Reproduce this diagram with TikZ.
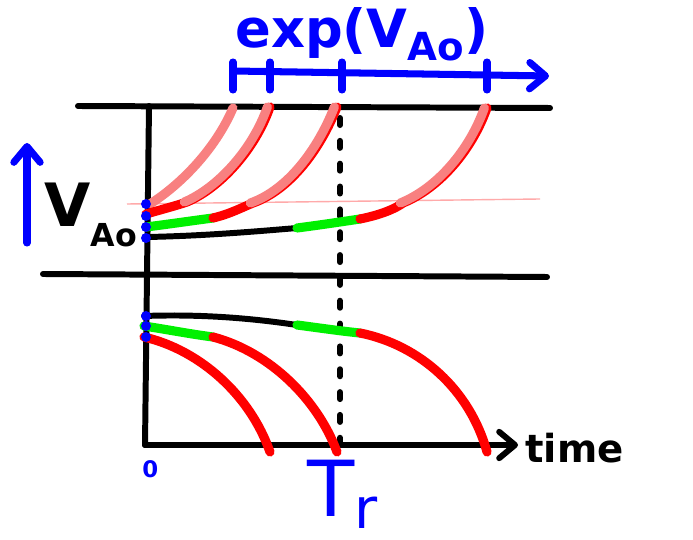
\documentclass[tikz,border=0pt]{standalone}
\usepackage{fontspec}
\setmainfont{DejaVu Sans}
\usetikzlibrary{arrows.meta}
\definecolor{penblue}{RGB}{0,0,255}
\definecolor{penred}{RGB}{255,0,0}
\definecolor{pengreen}{RGB}{0,240,0}
\definecolor{penpink}{RGB}{248,128,128}
\definecolor{guide}{RGB}{255,170,170}
\tikzset{
  axis/.style={line width=3.4pt,line cap=round},
  blueline/.style={penblue,line width=4pt,line cap=round},
  ink/.style={line width=5.2pt,line cap=round},
  label/.style={inner sep=0pt,anchor=base west,font=\bfseries},
}

\begin{document}
\begin{tikzpicture}[x=0.02cm,y=-0.02cm,>={Straight Barb[length=9pt,width=15pt,round]}]
  \useasboundingbox (0,0) rectangle (693,540);
  \fill[white] (0,0) rectangle (693,540);
  \coordinate (O) at (145,445);
  \coordinate (Otop) at (149,106);
  \coordinate (Tend) at (518,445);
  \coordinate (Tr) at (340,445);
  \coordinate (TrTop) at (340,118);
  \draw[guide,line width=0.8pt] (127,204) -- (540,199);
  \draw[axis] (78,106) -- (550,108);
  \draw[axis] (43,274) -- (547,277);
  \draw[axis] (Otop) -- (O);
  \draw[axis,->] (O) -- (Tend);
  \draw[axis,dash pattern=on 4pt off 9pt] (TrTop) -- (Tr);
  \draw[blueline,->] (233,71) -- (549,76);
  \foreach \x in {233,270,342,487}
    \draw[blueline] (\x,62) -- (\x,90);
  \draw[blueline,->] (27,243) -- (27,143);
  \node[label,penblue,font=\bfseries\fontsize{30}{30}\selectfont] (expv) at (235,48)
    {exp(V\raisebox{-7pt}{\fontsize{22}{22}\selectfont Ao})};
  \node[label,font=\bfseries\fontsize{34}{34}\selectfont] (vao) at (44,227)
    {V\raisebox{-11pt}{\fontsize{18}{18}\selectfont Ao}};
  \node[label,font=\bfseries\fontsize{22}{22}\selectfont] (time) at (525,462) {time};
  \node[label,penblue,font=\bfseries\fontsize{13}{13}\selectfont] (zero) at (142,478) {0};
  \node[label,penblue,font=\fontsize{44}{44}\selectfont] (trlab) at (307,516)
    {T\raisebox{-7pt}{\fontsize{32}{32}\selectfont r}};
  \draw[ink,penpink] (150,204) .. controls (180,185) and (215,150) .. (233,108);
  \draw[ink,penred] (146,214) .. controls (160,210) and (175,206) .. (187,202)
    .. controls (220,188) and (255,150) .. (270,107);
  \draw[ink,penpink,xshift=-1.5pt] (187,202) .. controls (220,188) and (255,150) .. (270,107);
  \draw[ink,pengreen] (146,227) .. controls (170,224) and (190,221) .. (213,218);
  \draw[ink,penred] (213,218) .. controls (230,214) and (243,207) .. (253,203)
    .. controls (290,190) and (320,150) .. (337,107);
  \draw[ink,penpink,xshift=-1.5pt] (253,203) .. controls (290,190) and (320,150) .. (337,107);
  \draw[axis] (147,237) .. controls (200,236) and (250,232) .. (297,228);
  \draw[ink,pengreen] (297,228) .. controls (320,225) and (340,222) .. (360,219);
  \draw[ink,penred] (360,219) .. controls (380,215) and (395,209) .. (403,203)
    .. controls (440,188) and (472,150) .. (487,108);
  \draw[ink,penpink,xshift=-1.5pt] (403,203) .. controls (440,188) and (472,150) .. (487,108);
  \draw[axis] (144,316) .. controls (200,314) and (250,318) .. (297,325);
  \draw[ink,pengreen] (297,325) .. controls (320,328) and (340,331) .. (360,333);
  \draw[ink,penred] (360,333) .. controls (420,345) and (470,390) .. (487,452);
  \draw[ink,pengreen] (144,326) .. controls (170,330) and (190,334) .. (213,337);
  \draw[ink,penred] (213,337) .. controls (270,352) and (318,400) .. (337,452);
  \draw[ink,penred] (144,337) .. controls (200,350) and (250,395) .. (270,452);
  \foreach \y in {204,216,227,238,316,326,337}
    \fill[penblue] (146,\y) circle (5);
\end{tikzpicture}
\end{document}
